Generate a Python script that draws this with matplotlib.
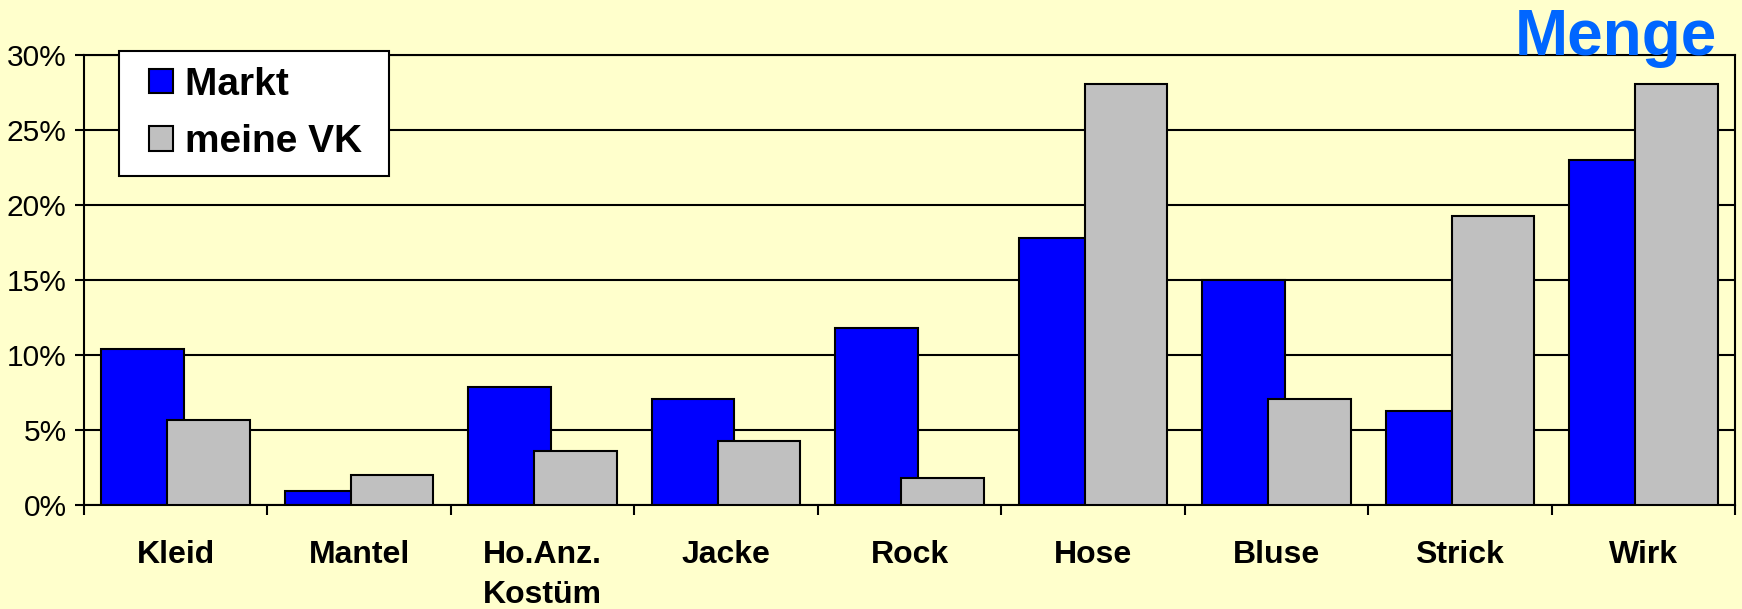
#!/usr/bin/env python3

import numpy as np
import matplotlib
matplotlib.use("Agg")
import matplotlib.pyplot as plt
import matplotlib.patches as mpatches
from matplotlib.container import BarContainer
from matplotlib.legend_handler import HandlerPatch
from matplotlib.ticker import FixedLocator, NullFormatter, FuncFormatter

categories = ["Kleid", "Mantel", "Ho.Anz.\nKostüm", "Jacke", "Rock",
              "Hose", "Bluse", "Strick", "Wirk"]
markt = [10.4, 0.9, 7.9, 7.1, 11.8, 17.8, 15.0, 6.3, 23.0]
meine_vk = [5.7, 2.0, 3.6, 4.3, 1.8, 28.1, 7.1, 19.3, 28.1]

plt.rcParams['font.family'] = ['Liberation Sans', 'DejaVu Sans']

bg = "#FFFFCC"
fig = plt.figure(figsize=(17.42, 6.09), dpi=100, facecolor=bg)
ax = fig.add_axes([0.0482, 0.1708, 0.9478, 0.7381], facecolor=bg)

x = np.arange(len(categories))
w = 0.45
b1 = ax.bar(x - 0.18, markt, w, color="#0000FF", edgecolor="black",
            linewidth=1.5, label="Markt", zorder=2)
b2 = ax.bar(x + 0.18, meine_vk, w, color="#C0C0C0", edgecolor="black",
            linewidth=1.5, label="meine VK", zorder=3)

ax.set_xlim(-0.5, len(categories) - 0.5)
ax.set_ylim(0, 30)
ax.set_yticks(np.arange(0, 31, 5))
ax.yaxis.set_major_formatter(FuncFormatter(lambda v, p: f"{v:.0f}%"))
ax.yaxis.grid(True, color="black", linewidth=1.5)
ax.set_axisbelow(True)

# ticks sit between the categories, labels in the middle
ax.xaxis.set_major_locator(FixedLocator(np.arange(-0.5, len(categories), 1)))
ax.xaxis.set_major_formatter(NullFormatter())
ax.xaxis.set_minor_locator(FixedLocator(x))
ax.set_xticklabels(categories, minor=True, fontsize=23, fontweight="bold",
                   linespacing=1.45)
ax.tick_params(axis="x", which="major", direction="out", length=7,
               width=1.5, color="black")
ax.tick_params(axis="x", which="minor", length=0, pad=25)
ax.tick_params(axis="y", direction="out", length=6.5, width=1.5,
               labelsize=21.5, pad=6)

for s in ax.spines.values():
    s.set_linewidth(1.5)
    s.set_color("black")


def square(legend, orig_handle, xdescent, ydescent, width, height, fontsize):
    return mpatches.Rectangle((-xdescent + width - height, -ydescent),
                              height, height)


def first_bar(handle, orig):
    handle.update_from(orig.patches[0])


leg = ax.legend(handles=[b1, b2], loc="upper left",
                bbox_to_anchor=(119 / 1742, 1 - 51 / 609),
                bbox_transform=fig.transFigure, borderaxespad=0,
                prop={"size": 28, "weight": "bold"}, fancybox=False,
                framealpha=1, edgecolor="black", handlelength=1.0,
                handleheight=0.6, handletextpad=0.3, labelspacing=0.55,
                borderpad=0.4,
                handler_map={BarContainer: HandlerPatch(patch_func=square,
                                                        update_func=first_bar)})
leg.get_frame().set_linewidth(1.5)
for t in leg.get_texts():
    t.set_text(t.get_text() + " ")

fig.text(1717 / 1742, 1 - 55 / 609, "Menge", ha="right", va="baseline",
         fontsize=46, fontweight="bold", color="#0066FF")

fig.savefig("out.png", dpi=100, facecolor=bg)
